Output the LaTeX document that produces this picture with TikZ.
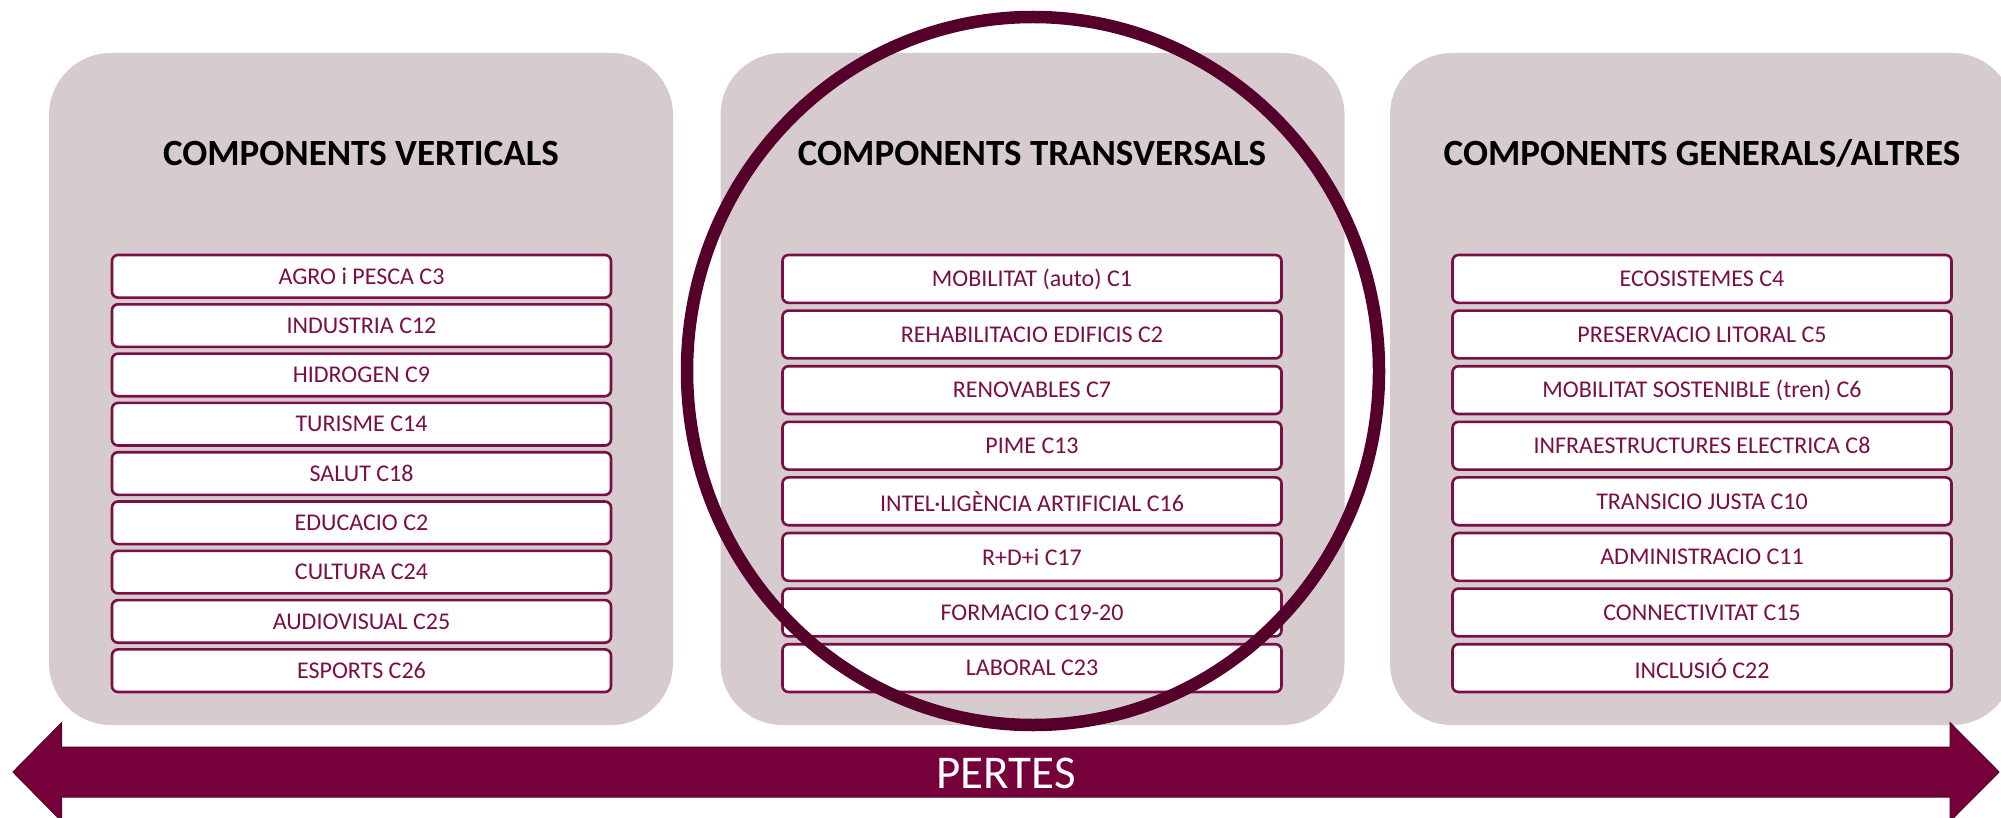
\documentclass[tikz,border=0pt]{standalone}
\usepackage{fontspec}
\setmainfont{Carlito}
\definecolor{panelc}{HTML}{D6CBCF}
\definecolor{itemc}{HTML}{7A0F45}
\definecolor{ringc}{HTML}{55002A}
\definecolor{arrowc}{HTML}{76003A}
\tikzset{
  panel/.style={fill=panelc, draw=none, rounded corners=62pt, minimum width=624pt, minimum height=672pt, inner sep=0pt},
  title/.style={font=\fontsize{37}{41}\selectfont\bfseries, text=black, inner sep=0pt},
  itemv/.style={draw=itemc, line width=2.6pt, fill=white, rounded corners=6pt, minimum width=499pt, minimum height=42.6pt, inner sep=0pt, text=itemc, font=\fontsize{24}{28}\selectfont},
  itemt/.style={itemv, minimum height=47.8pt},
  ring/.style={draw=ringc, line width=12.5pt},
  bigarrow/.style={fill=arrowc, draw=ringc, line width=1pt},
}
\begin{document}
\begin{tikzpicture}[x=1pt,y=-1pt]
\useasboundingbox (0,0) rectangle (2001,818);
\begin{scope}
\clip (0,0) rectangle (2001,818);
% panels
\node[panel] (pv) at (361,389) {};
\node[panel] (pt) at (1032.5,389) {};
\node[panel] (pg) at (1702,389) {};
\node[title] (tv) at (361,153) {COMPONENTS VERTICALS};
\node[title] (tt) at (1032,153) {COMPONENTS TRANSVERSALS};
\node[title] (tg) at (1702,153) {COMPONENTS GENERALS/ALTRES};
% vertical items
\foreach \t [count=\i from 0] in {AGRO i PESCA C3, INDUSTRIA C12, HIDROGEN C9, TURISME C14, SALUT C18, EDUCACIO C2, CULTURA C24, AUDIOVISUAL C25, ESPORTS C26}{
  \node[itemv] (v\i) at (361.5, 276.3+49.3*\i) {\t};
}
% transversal items
\foreach \t [count=\i from 0] in {MOBILITAT (auto) C1, REHABILITACIO EDIFICIS C2, RENOVABLES C7, PIME C13, INTEL·LIGÈNCIA ARTIFICIAL C16, R+D+i C17, FORMACIO C19-20, LABORAL C23}{
  \node[itemt] (m\i) at (1032, 278.9+55.6*\i) {\t};
}
% general items
\foreach \t [count=\i from 0] in {ECOSISTEMES C4, PRESERVACIO LITORAL C5, MOBILITAT SOSTENIBLE (tren) C6, INFRAESTRUCTURES ELECTRICA C8, TRANSICIO JUSTA C10, ADMINISTRACIO C11, CONNECTIVITAT C15, INCLUSIÓ C22}{
  \node[itemt] (g\i) at (1702, 278.9+55.6*\i) {\t};
}
% ring
\draw[ring] (1033,371) ellipse [x radius=346, y radius=354];
% arrow
\draw[bigarrow] (13,772) -- (61.6,722.7) -- (61.6,747) -- (1950,747) -- (1950,722.7) -- (1999,772) -- (1950,821.3) -- (1950,797) -- (61.6,797) -- (61.6,821.3) -- cycle;
\node[text=white, font=\fontsize{47}{51}\selectfont, inner sep=0pt] (pertes) at (1006,773.5) {PERTES};
\end{scope}
\end{tikzpicture}
\end{document}
